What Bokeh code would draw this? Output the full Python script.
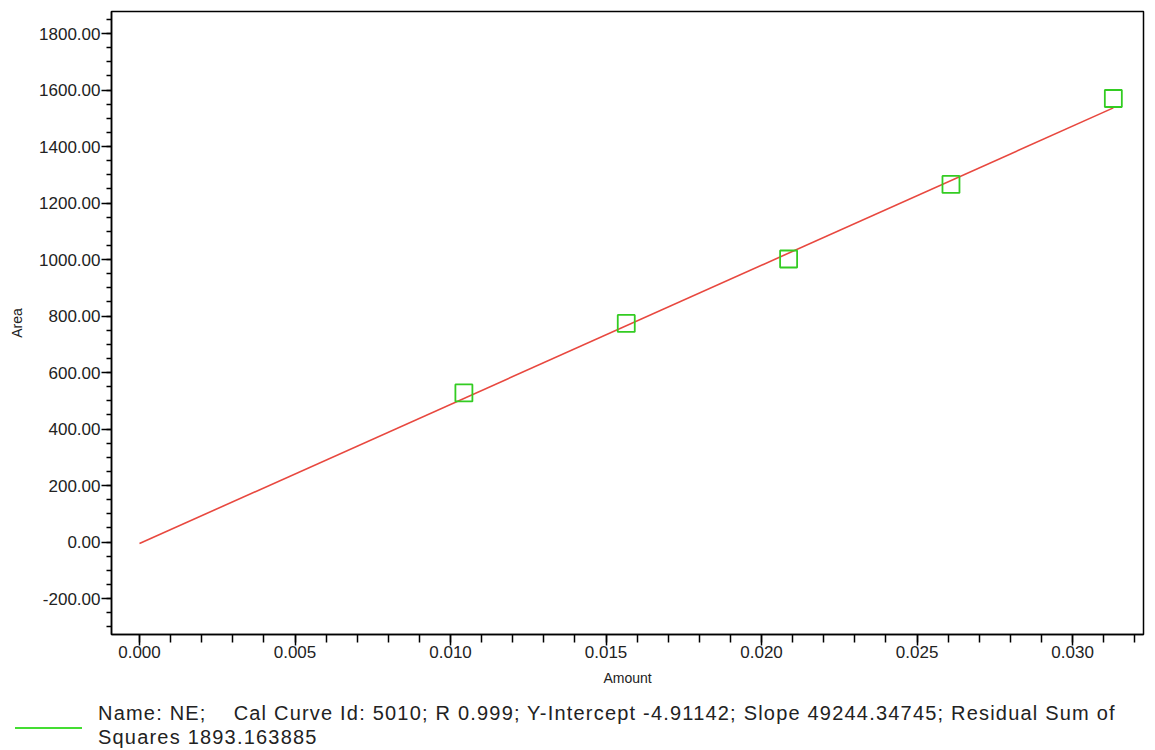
from bokeh.plotting import figure
from bokeh.layouts import column
from bokeh.models import Range1d, FixedTicker, NumeralTickFormatter, Div
from bokeh.embed import file_html
from bokeh.resources import INLINE

# ---- data ----
amount = [0.01043, 0.01565, 0.02087, 0.02609, 0.03131]
area = [528, 774, 1002, 1266, 1570]
intercept = -4.91142
slope = 49244.34745
legend_line1 = "Name: NE;&nbsp;&nbsp;&nbsp; Cal Curve Id: 5010; R 0.999; Y-Intercept -4.91142; Slope 49244.34745; Residual Sum of"
legend_line2 = "Squares 1893.163885"
x_major = [0.000, 0.005, 0.010, 0.015, 0.020, 0.025, 0.030]
y_major = [-200, 0, 200, 400, 600, 800, 1000, 1200, 1400, 1600, 1800]

fit_x = [0.0, max(amount)]
fit_y = [intercept + slope * v for v in fit_x]

p = figure(width=1153, height=692, output_backend="svg", toolbar_location=None,
           x_range=Range1d(-0.00090, 0.03228), y_range=Range1d(-327, 1878),
           min_border_left=111, min_border_top=11, min_border_right=10, min_border_bottom=58)
p.background_fill_color = "white"
p.border_fill_color = "white"
p.outline_line_color = "black"
p.outline_line_width = 1.5
p.grid.visible = False

font = "Liberation Sans"

p.xaxis.ticker = FixedTicker(ticks=x_major,
                             minor_ticks=[i / 1000 for i in range(0, 33)])
p.yaxis.ticker = FixedTicker(ticks=y_major,
                             minor_ticks=list(range(-300, 1851, 50)))
p.xaxis.formatter = NumeralTickFormatter(format="0.000")
p.yaxis.formatter = NumeralTickFormatter(format="0.00")

for ax in (p.xaxis[0], p.yaxis[0]):
    ax.axis_line_color = "black"
    ax.axis_line_width = 1.5
    ax.major_tick_line_color = "black"
    ax.minor_tick_line_color = "black"
    ax.major_tick_line_width = 1.5
    ax.minor_tick_line_width = 1.5
    ax.major_tick_in = 0
    ax.minor_tick_in = 0
    ax.major_label_text_font = font
    ax.major_label_text_font_size = "17px"
    ax.major_label_text_color = "#222222"
    ax.axis_label_text_font = font
    ax.axis_label_text_font_size = "14px"
    ax.axis_label_text_font_style = "normal"
    ax.axis_label_text_color = "#222222"

p.xaxis.major_tick_out = 11
p.xaxis.minor_tick_out = 8
p.xaxis.major_label_standoff = 0
p.xaxis.axis_label = "Amount"
p.xaxis.axis_label_standoff = 9

p.yaxis.major_tick_out = 10
p.yaxis.minor_tick_out = 5
p.yaxis.major_label_standoff = 1
p.yaxis.axis_label = "Area"
p.yaxis.axis_label_standoff = 11

p.line(fit_x, fit_y, line_color="#e8483f", line_width=1.6)
p.scatter(amount, area, marker="square", size=17, fill_alpha=0,
          line_color="#33cc22", line_width=1.8)

legend_html = (
    '<div style="position:relative;width:1153px;height:58px;'
    'font-family:\'Liberation Sans\',Arial,sans-serif;font-size:20px;'
    'letter-spacing:1.2px;color:#222222;line-height:24px;">'
    '<div style="position:absolute;left:15px;top:35px;width:67px;height:2px;'
    'background:#44dd33;"></div>'
    '<div style="position:absolute;left:98px;top:9px;white-space:nowrap;">'
    + legend_line1 + '<br>' + legend_line2 +
    '</div></div>'
)
div = Div(text=legend_html, width=1153, height=58, margin=(0, 0, 0, 0))
p.margin = (0, 0, 0, 0)

layout = column(p, div, spacing=0)
open("out.html", "w").write(file_html(layout, INLINE))
